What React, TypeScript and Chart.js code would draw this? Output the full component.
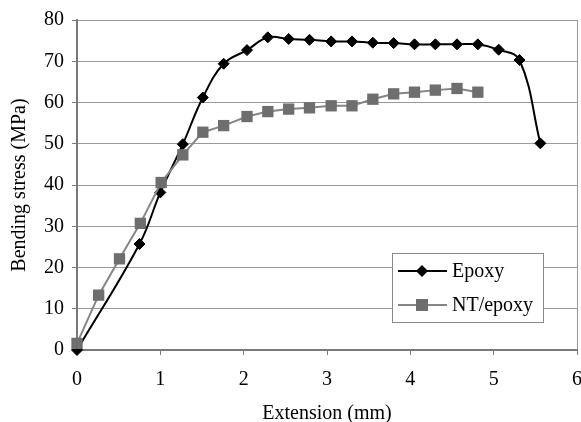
import React, { useEffect, useRef } from "react";
import { Chart, registerables } from "chart.js";

Chart.register(...registerables);

const seriesNames = ["Epoxy", "NT/epoxy"];
const epoxyX = [0, 0.75, 1.0, 1.27, 1.51, 1.76, 2.04, 2.29, 2.54, 2.79, 3.05, 3.3, 3.55, 3.8, 4.05, 4.3, 4.56, 4.81, 5.06, 5.31, 5.56];
const epoxyY = [0, 25.7, 38.2, 49.9, 61.2, 69.4, 72.7, 75.8, 75.4, 75.2, 74.8, 74.8, 74.5, 74.4, 74.1, 74.1, 74.1, 74.1, 72.8, 70.3, 50.1];
const ntX = [0, 0.26, 0.51, 0.76, 1.01, 1.27, 1.51, 1.76, 2.04, 2.29, 2.54, 2.79, 3.05, 3.3, 3.55, 3.8, 4.05, 4.3, 4.56, 4.81];
const ntY = [1.6, 13.3, 22.1, 30.7, 40.6, 47.3, 52.8, 54.4, 56.6, 57.8, 58.4, 58.7, 59.2, 59.2, 60.8, 62.1, 62.5, 63.0, 63.4, 62.5];
const xRange = [0, 6];
const yRange = [0, 80];
const xTitle = "Extension (mm)";
const yTitle = "Bending stress (MPa)";

const FONT = { family: "'Liberation Serif', 'Times New Roman', serif", size: 20 };
const GRID = "#9a9a9a";
const AXIS = "#7a7a7a";
const EPOXY_COLOR = "#000000";
const NT_LINE = "#858585";
const NT_POINT = "#6e6e6e";

const boxLegend = {
  id: "boxLegend",
  afterDraw(chart: any) {
    const { ctx, chartArea } = chart;
    const left = chartArea.right - 185;
    const top = chartArea.top + 233;
    const w = 151;
    const h = 69;
    ctx.save();
    ctx.fillStyle = "#ffffff";
    ctx.fillRect(left, top, w, h);
    ctx.strokeStyle = "#8a8a8a";
    ctx.lineWidth = 1;
    ctx.strokeRect(left + 0.5, top + 0.5, w, h);
    const rows = [top + 18, top + 52];
    chart.data.datasets.forEach((ds: any, i: number) => {
      const y = rows[i];
      ctx.strokeStyle = ds.borderColor;
      ctx.lineWidth = 2;
      ctx.beginPath();
      ctx.moveTo(left + 6, y);
      ctx.lineTo(left + 55, y);
      ctx.stroke();
      ctx.fillStyle = ds.pointBackgroundColor;
      const cx = left + 30;
      if (ds.pointStyle === "rectRot") {
        const r = 6;
        ctx.beginPath();
        ctx.moveTo(cx - r, y);
        ctx.lineTo(cx, y - r);
        ctx.lineTo(cx + r, y);
        ctx.lineTo(cx, y + r);
        ctx.closePath();
        ctx.fill();
      } else {
        ctx.fillRect(cx - 6, y - 6, 12, 12);
      }
      ctx.fillStyle = "#000";
      ctx.font = `${FONT.size}px ${FONT.family}`;
      ctx.textBaseline = "middle";
      ctx.textAlign = "left";
      ctx.fillText(ds.label, left + 60, y + 1);
    });
    ctx.restore();
  },
};

export default function App() {
  const ref = useRef<HTMLCanvasElement | null>(null);
  useEffect(() => {
    document.body.style.margin = "0";
    if (!ref.current) return;
    const chart = new Chart(ref.current, {
      type: "line",
      data: {
        datasets: [
          {
            label: seriesNames[0],
            data: epoxyX.map((x, i) => ({ x, y: epoxyY[i] })),
            borderColor: EPOXY_COLOR,
            backgroundColor: EPOXY_COLOR,
            pointBackgroundColor: EPOXY_COLOR,
            pointBorderColor: EPOXY_COLOR,
            pointStyle: "rectRot",
            pointRadius: 5.5,
            pointBorderWidth: 1,
            borderWidth: 2,
            tension: 0.4,
            clip: false,
            order: 1,
          },
          {
            label: seriesNames[1],
            data: ntX.map((x, i) => ({ x, y: ntY[i] })),
            borderColor: NT_LINE,
            backgroundColor: NT_POINT,
            pointBackgroundColor: NT_POINT,
            pointBorderColor: NT_POINT,
            pointStyle: "rect",
            pointRadius: 8,
            pointBorderWidth: 0,
            borderWidth: 2,
            tension: 0,
            clip: false,
            order: 0,
          },
        ],
      } as any,
      options: {
        responsive: false,
        animation: false,
        layout: { autoPadding: false, padding: { top: 20, right: 4, left: 0, bottom: 0 } },
        plugins: { legend: { display: false }, tooltip: { enabled: false } },
        scales: {
          x: {
            type: "linear",
            min: xRange[0],
            max: xRange[1],
            ticks: { stepSize: 1, color: "#000", font: FONT, padding: 13 },
            grid: {
              color: (c: any) => (c.tick && c.tick.value === xRange[1] ? GRID : "rgba(0,0,0,0)"),
              tickColor: AXIS,
              tickLength: 5,
              lineWidth: 1,
            },
            border: { color: AXIS, width: 2 },
            title: { display: true, text: xTitle, color: "#000", font: FONT, padding: { top: 0, bottom: -4 } },
            afterFit: (s: any) => {
              s.height = 72;
              s.paddingLeft = 0;
              s.paddingRight = 0;
            },
          },
          y: {
            type: "linear",
            min: yRange[0],
            max: yRange[1],
            ticks: { stepSize: 10, color: "#000", font: FONT, padding: 8 },
            grid: { color: GRID, tickColor: AXIS, tickLength: 5, lineWidth: 1 },
            border: { color: AXIS, width: 2 },
            title: { display: true, text: yTitle, color: "#000", font: FONT, padding: { top: 8, bottom: 0 } },
            afterFit: (s: any) => {
              s.width = 77;
              s.paddingTop = 0;
              s.paddingBottom = 0;
            },
          },
        },
      } as any,
      plugins: [boxLegend],
    });
    return () => chart.destroy();
  }, []);
  return <canvas ref={ref} width={581} height={422} style={{ display: "block" }} />;
}
